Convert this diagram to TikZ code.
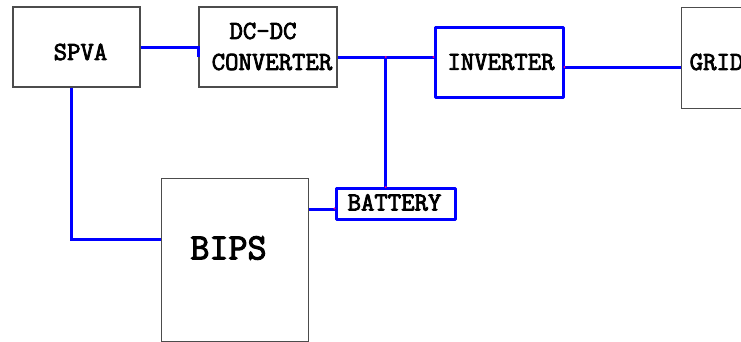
\documentclass[tikz,border=0pt]{standalone}
\usepackage{fontspec}
\setmonofont[BoldFont={Latin Modern Mono},BoldFeatures={FakeBold=3}]{Latin Modern Mono}
\begin{document}
\begin{tikzpicture}[x=1pt,y=-1pt,
  gbox/.style={draw=black!70,line width=1.1pt,fill=white,inner sep=0pt},
  bbox/.style={draw=blue,line width=3pt,line join=round,inner sep=0pt},
  wire/.style={draw=blue,line width=3pt},
  lbl/.style={font=\ttfamily\bfseries\fontsize{26}{26}\selectfont,inner sep=0pt,anchor=center},
  big/.style={font=\ttfamily\bfseries\fontsize{37}{37}\selectfont,inner sep=0pt,anchor=center},
  jdot/.style={fill=magenta,circle,inner sep=0pt,minimum size=2.4pt}]
\useasboundingbox (0,0) rectangle (741,341);
% boxes
\node[gbox,minimum width=127pt,minimum height=80pt] (spva) at (76.5,47) {};
\node[gbox,minimum width=138pt,minimum height=80pt] (dc) at (268,47) {};
\node[bbox,minimum width=128pt,minimum height=70pt] (inv) at (499,62) {};
\node[gbox,minimum width=120pt,minimum height=101pt,anchor=north west] (grid) at (680.5,7) {};
\node[gbox,minimum width=147pt,minimum height=163pt,anchor=north west] (bips) at (160.5,178) {};
\node[bbox,minimum width=119pt,minimum height=31pt] (bat) at (395.5,204) {};
% texts
\node[lbl] (tspva) at (80.5,52) {SPVA};
\node[lbl] (tdc1) at (263,31) {DC-DC};
\node[lbl] (tdc2) at (272,62) {CONVERTER};
\node[lbl] (tinv) at (501,62) {INVERTER};
\node[lbl,anchor=west] (tgrid) at (689.5,62) {GRID};
\node[big] (tbips) at (228.5,248) {BIPS};
\node[lbl] (tbat) at (394.5,202.5) {BATTERY};
% coordinates
\coordinate (j) at (385.7,57);
\coordinate (s1) at (71.5,239);
% connectors
\draw[wire] (spva.east) -- (dc.west) -- ++(0,10);
\draw[wire] (dc.east |- j) -- (j) -- (inv.west |- j);
\draw[wire] (j) -- (j |- bat.north);
\draw[wire] (inv.east |- 0,67) -- (grid.west |- 0,67);
\draw[wire] (s1 |- spva.south) -- (s1) -- (bips.west |- s1);
\draw[wire] (bips.east |- 0,209) -- (bat.west |- 0,209);
% junction marks
\node[jdot] (m1) at (j) {};
\node[jdot] (m2) at (inv.west |- j) {};
\node[jdot] (m3) at (inv.east |- 0,67) {};
\node[jdot] (m4) at (bat.west |- 0,208.5) {};
\node[jdot] (m5) at (j |- bat.north) {};
\end{tikzpicture}
\end{document}
